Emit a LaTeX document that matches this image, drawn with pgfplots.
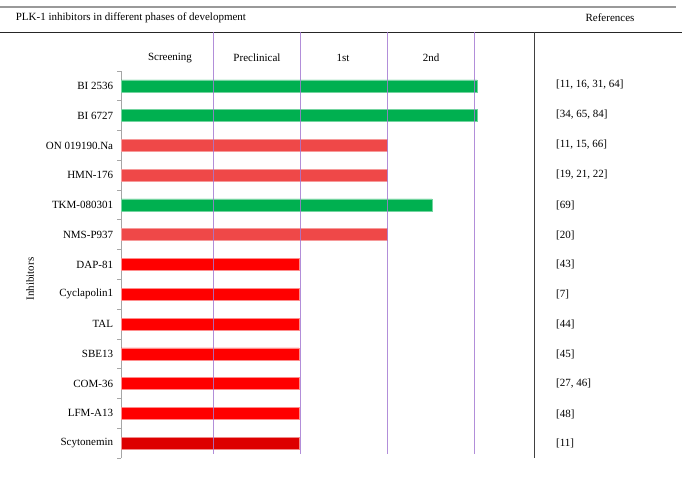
\documentclass[border=0pt]{standalone}
\usepackage{fontspec}
\setmainfont{Liberation Serif}
\usepackage{pgfplots}
\pgfplotsset{compat=1.18}
\definecolor{cgreen}{HTML}{00B050}
\definecolor{clred}{HTML}{EF4848}
\definecolor{cred}{HTML}{FF0000}
\definecolor{cdred}{HTML}{DD0000}
\definecolor{cpurple}{HTML}{A47AD2}
\begin{document}
\fontsize{11pt}{13pt}\selectfont
\begin{tikzpicture}[x=1pt,y=1pt]
\useasboundingbox (0,0) rectangle (682,-481);
% table rules
\draw[gray!80, line width=1.5pt] (0,-7) -- (676,-7);
\draw[black!85, line width=0.9pt] (0,-32) -- (682,-32);
\node[anchor=west] at (12,-18) {PLK-1 inhibitors in different phases of development};
\node at (610,-18) {References};
\draw[black!75, line width=1pt] (534.5,-32) -- (534.5,-458);
\node at (170,-58) {Screening};
\node at (257,-58) {Preclinical};
\node at (343,-58) {1st};
\node at (431,-58) {2nd};
\node[rotate=90] at (30,-279) {Inhibitors};
\begin{axis}[
  at={(121pt,-458pt)}, anchor=south west,
  scale only axis, width=413pt, height=387pt,
  xmin=0, xmax=413, ymin=0.5, ymax=13.5,
  xbar, bar width=12pt, bar shift=0pt,
  axis x line=none, axis y line*=left,
  axis line style={gray!70, line width=0.8pt},
  xtick=\empty,
  ytick={1,...,13},
  yticklabels={Scytonemin,LFM-A13,COM-36,SBE13,TAL,Cyclapolin1,DAP-81,NMS-P937,TKM-080301,HMN-176,ON 019190.Na,BI 6727,BI 2536},
  minor ytick={0.5,1.5,...,13.5},
  major tick length=0pt, minor tick length=4pt,
  tick align=outside, minor tick style={gray!70, line width=0.8pt},
  yticklabel style={font=\fontsize{11pt}{13pt}\selectfont, xshift=-4pt},
  clip=false,
]
\addplot[fill=cgreen, draw=cgreen!55!white, line width=0.5pt] coordinates {(356,13) (356,12) (311,9)};
\addplot[fill=clred, draw=clred!55!white, line width=0.5pt] coordinates {(266,11) (266,10) (266,8)};
\addplot[fill=cred, draw=cred!45!white, line width=0.5pt] coordinates {(178,7) (178,6) (178,5) (178,4) (178,3) (178,2)};
\addplot[fill=cdred, draw=cdred!45!white, line width=0.5pt] coordinates {(178,1)};
\end{axis}
% phase lines (drawn over the bars)
\foreach \xx in {213,300.5,387.5,474.5}
  \draw[cpurple, line width=0.8pt, opacity=0.85] (\xx,-32) -- (\xx,-454);
% references
\foreach \yy/\txt in {85/{[11, 16, 31, 64]},115/{[34, 65, 84]},145/{[11, 15, 66]},175/{[19, 21, 22]},205/{[69]},235/{[20]},264/{[43]},294/{[7]},324/{[44]},354/{[45]},384/{[27, 46]},414/{[48]},443/{[11]}}
  \node[anchor=west, inner sep=0pt] at (556,-\yy) {\txt};
\end{tikzpicture}
\end{document}
